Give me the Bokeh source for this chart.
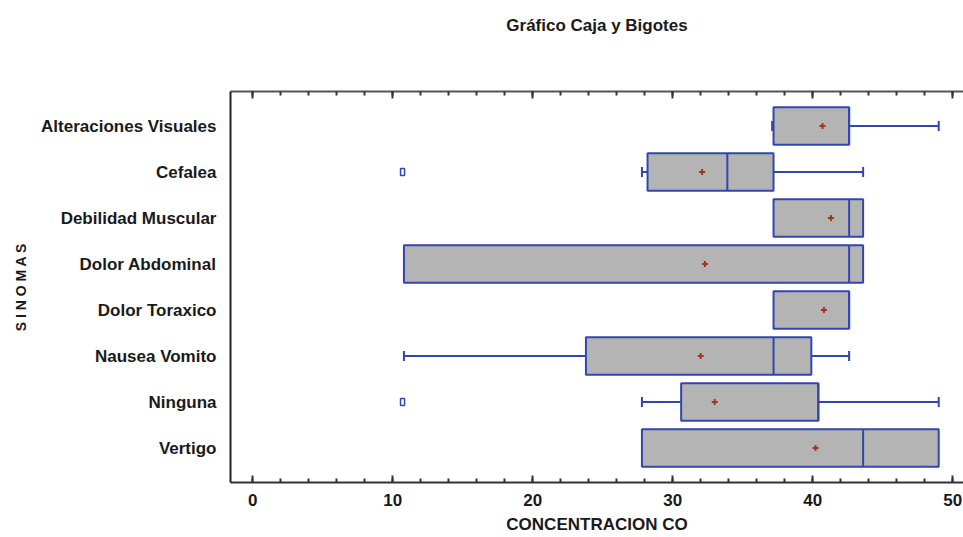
from bokeh.plotting import figure
from bokeh.models import Range1d, LinearAxis, SingleIntervalTicker, FixedTicker, ColumnDataSource
from bokeh.embed import file_html
from bokeh.resources import INLINE

# ---- data ----
categories = ["Alteraciones Visuales", "Cefalea", "Debilidad Muscular", "Dolor Abdominal",
              "Dolor Toraxico", "Nausea Vomito", "Ninguna", "Vertigo"]
whisker_low = [37.1, 27.8, 37.2, 10.8, 37.2, 10.8, 27.8, 27.8]
q1 = [37.2, 28.2, 37.2, 10.8, 37.2, 23.8, 30.6, 27.8]
median = [42.6, 33.9, 42.6, 42.6, 42.6, 37.2, 40.4, 43.6]
q3 = [42.6, 37.2, 43.6, 43.6, 42.6, 39.9, 40.4, 49.0]
whisker_high = [49.0, 43.6, 43.6, 43.6, 42.6, 42.6, 49.0, 49.0]
means = [40.7, 32.1, 41.3, 32.3, 40.8, 32.0, 33.0, 40.2]
outlier_cat = ["Cefalea", "Ninguna"]
outlier_val = [10.7, 10.7]

title_text = "Gráfico Caja y Bigotes"
x_label = "CONCENTRACION CO"
y_label = "S I N O M A S"

FONT = "Liberation Sans"
BLUE = "#3346b0"
GREY = "#b4b4b4"
RED = "#a3361a"
AXIS = "#333333"

idx = list(range(1, len(categories) + 1))
pos = {c: i for c, i in zip(categories, idx)}

p = figure(width=963, height=537,
           x_range=Range1d(-1.59, 50.77), y_range=Range1d(8.75, 0.25),
           output_backend="svg", toolbar_location=None,
           x_axis_location=None, y_axis_location=None,
           min_border_left=230, min_border_right=0, min_border_top=91, min_border_bottom=55)
p.outline_line_color = None
p.background_fill_color = "white"
p.border_fill_color = "white"
p.grid.visible = False

ticker = SingleIntervalTicker(interval=10, num_minor_ticks=5)

xb = LinearAxis(ticker=ticker, axis_label=x_label)
xb.axis_line_color = AXIS
xb.axis_line_width = 2
xb.major_tick_in = 7
xb.major_tick_out = 0
xb.minor_tick_in = 4
xb.minor_tick_out = 0
xb.major_tick_line_color = AXIS
xb.minor_tick_line_color = AXIS
xb.major_tick_line_width = 2
xb.minor_tick_line_width = 2
xb.major_label_text_font = FONT
xb.major_label_text_font_style = "bold"
xb.major_label_text_font_size = "17px"
xb.major_label_text_color = "#1a1a1a"
xb.major_label_standoff = 11
xb.axis_label_text_font = FONT
xb.axis_label_text_font_style = "bold"
xb.axis_label_text_font_size = "17px"
xb.axis_label_text_color = "#1a1a1a"
xb.axis_label_standoff = 6
p.add_layout(xb, "below")

# top axis: mirrored ticks, carries the chart title as its label
xt = LinearAxis(ticker=ticker, axis_label=title_text)
xt.axis_line_color = "#555555"
xt.axis_line_width = 2
xt.major_tick_in = 7
xt.major_tick_out = 0
xt.minor_tick_in = 4
xt.minor_tick_out = 0
xt.major_tick_line_color = AXIS
xt.minor_tick_line_color = AXIS
xt.major_tick_line_width = 2
xt.minor_tick_line_width = 2
xt.major_label_text_alpha = 0
xt.major_label_text_font_size = "8px"
xt.major_label_standoff = 5
xt.axis_label_text_font = FONT
xt.axis_label_text_font_style = "bold"
xt.axis_label_text_font_size = "17px"
xt.axis_label_text_color = "#1a1a1a"
xt.axis_label_standoff = 57
p.add_layout(xt, "above")

yl = LinearAxis(ticker=FixedTicker(ticks=idx), axis_label=y_label)
yl.major_label_overrides = {i: c for i, c in zip(idx, categories)}
yl.axis_line_color = "#222222"
yl.axis_line_width = 2
yl.major_tick_line_color = None
yl.minor_tick_line_color = None
yl.major_label_text_font = FONT
yl.major_label_text_font_style = "bold"
yl.major_label_text_font_size = "17px"
yl.major_label_text_color = "#1a1a1a"
yl.major_label_standoff = 8
yl.axis_label_text_font = FONT
yl.axis_label_text_font_style = "bold"
yl.axis_label_text_font_size = "14px"
yl.axis_label_text_color = "#1a1a1a"
yl.axis_label_standoff = 9
p.add_layout(yl, "left")

# boxes
box_src = ColumnDataSource(dict(y=idx, left=q1, right=q3))
p.hbar(y="y", left="left", right="right", height=0.82, source=box_src,
       fill_color=GREY, line_color=BLUE, line_width=2)

# median lines
p.segment(x0=median, x1=median, y0=[i - 0.41 for i in idx], y1=[i + 0.41 for i in idx],
          line_color=BLUE, line_width=2)

# whiskers and caps
wl = [(i, lo, a) for i, lo, a in zip(idx, whisker_low, q1) if lo < a]
wh = [(i, hi, b) for i, hi, b in zip(idx, whisker_high, q3) if hi > b]
for group in (wl, wh):
    if group:
        ys = [g[0] for g in group]
        ends = [g[1] for g in group]
        edges = [g[2] for g in group]
        p.segment(x0=ends, x1=edges, y0=ys, y1=ys, line_color=BLUE, line_width=2)
        p.segment(x0=ends, x1=ends, y0=[y - 0.11 for y in ys], y1=[y + 0.11 for y in ys],
                  line_color=BLUE, line_width=2)

# outliers
p.rect(x=outlier_val, y=[pos[c] for c in outlier_cat], width=4, height=7,
       width_units="screen", height_units="screen",
       fill_color="white", line_color=BLUE, line_width=1.5)

# means
p.scatter(x=means, y=idx, marker="cross", size=6, line_color=RED, line_width=2)

open("out.html", "w").write(file_html(p, INLINE))
